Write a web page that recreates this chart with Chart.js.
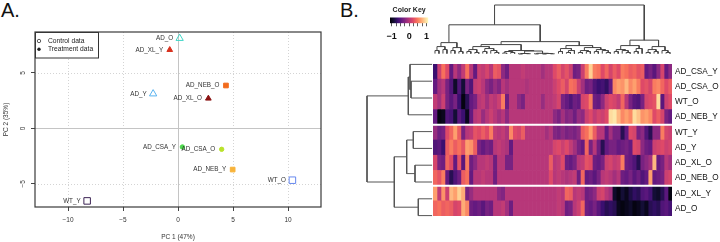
<!DOCTYPE html>
<html>
<head>
<meta charset="utf-8">
<script src="https://cdn.jsdelivr.net/npm/chart.js@4.4.1/dist/chart.umd.min.js"></script>
<style>
  body { margin: 0; background: #fff; width: 720px; height: 242px; overflow: hidden; position: relative; font-family: "Liberation Sans", Arial, sans-serif; }
  canvas { position: absolute; }
  .panel { position: absolute; font-size: 20px; line-height: 20px; color: #111; }
</style>
</head>
<body>
<div class="panel" style="left:1px;top:0px">A.</div>
<div class="panel" style="left:340px;top:0px">B.</div>
<canvas id="pca" width="360" height="242" style="left:0;top:0"></canvas>
<canvas id="key" width="56" height="44" style="left:380px;top:0"></canvas>
<canvas id="colDendro" width="239" height="56" style="left:433px;top:0"></canvas>
<canvas id="rowDendro" width="71" height="168" style="left:362px;top:56px"></canvas>
<canvas id="heat" width="287" height="168" style="left:433px;top:56px"></canvas>
<script>
// --- PANEL A: PCA scores ---
const pcaNames = ['AD_O', 'AD_XL_Y', 'AD_NEB_O', 'AD_Y', 'AD_XL_O', 'AD_CSA_Y', 'AD_CSA_O', 'AD_NEB_Y', 'WT_O', 'WT_Y'];
const pc1 = [0.15, -0.75, 4.36, -2.26, 2.76, 0.4, 3.97, 4.97, 10.4, -8.26];
const pc2 = [8.13, 7.09, 3.87, 3.12, 2.70, -1.68, -1.89, -3.72, -4.68, -6.55];
const treated = [false, true, true, false, true, true, true, true, false, false];
const pc1Ticks = [-10, -5, 0, 5, 10];
const pc2Ticks = [-5, 0, 5];
const legendLabels = ['Control data', 'Treatment data'];

// point styles
const pcaColors = ['#3fd6c6', '#d8321e', '#f26b1d', '#58b2ef', '#8a1212', '#4ed84e', '#b9e22b', '#f8b33a', '#6688ee', '#3c2454'];
const pcaShapes = ['triangle', 'triangle', 'rect', 'triangle', 'triangle', 'circle', 'circle', 'rect', 'rect', 'rect'];
const pcaRadius = [4.2, 3.3, 3.3, 4.2, 3.3, 2.2, 2.2, 3.3, 4.6, 4.6];

// --- PANEL B: heatmap rows (top to bottom), 60 columns each ---
const heatRowLabels = ['AD_CSA_Y', 'AD_CSA_O', 'WT_O', 'AD_NEB_Y', 'WT_Y', 'AD_Y', 'AD_XL_O', 'AD_NEB_O', 'AD_XL_Y', 'AD_O'];
const heatAD_CSA_Y = [-0.6, 0.1, 0.4, 0.2, -0.4, 0, -0.2, 0.05, 0.4, 0, -0.4, 0.1, 0.05, 0.15, 0, 0.3, 0.25, -0.2, -0.35,
  0, 0, 0, 0.05, 0, 0, 0, 0, -0.1, 0, 0,
  0.2, 0.3, 0.15, 0.25, 0.1, -0.35, -0.3, 0.1, 0.45, 0.8, 0.45, 0.4, 0.2, 0.35, 0.15, 0.3, 0.2, 0.45, 0.4, 0.3, 0.35, 0.25, 0.3, -0.4, -0.3, -0.45, -0.2, 0.15, -0.4, -0.2];
const heatAD_CSA_O = [-0.4, -0.1, 0, -0.3, -0.5, -0.85, -0.5, -0.8, -0.3, -0.5, 0.05, 0.1, 0, -0.2, -0.3, -0.15, -0.25, 0, -0.1,
  0, 0, 0, 0, -0.05, 0, 0, 0, 0, 0, 0,
  0.1, 0.2, 0.3, 0.15, 0.4, 0.35, 0.1, -0.1, -0.35, -0.3, -0.5, -0.6, -0.55, -0.65, -0.4, 0.5, 0.6, 0.55, 0.7, 0.5, 0.6, 0.45, 0.2, 0.25, 0.15, 0.45, 0.5, 0.35, 0.2, 0.3];
const heatWT_O = [0.05, -0.1, 0.1, -0.3, -0.45, -0.3, -0.6, -0.95, -0.7, -0.4, -0.3, 0, 0.05, -0.1, 0.05, 0, 0.1, 0.45, -0.35,
  0, 0, -0.2, -0.3, 0, 0, 0, 0, -0.15, 0, 0,
  0.05, 0.15, -0.3, -0.4, -0.5, -0.35, -0.4, 0.15, 0.2, 0.45, -0.35, -0.4, -0.2, 0.1, 0.2, 0.15, 0.05, 0.35, 0, -0.3, -0.45, -0.5, -0.3, 0.15, 0.2, 0.25, 0.85, -0.45, 0.1, 0.2];
const heatAD_NEB_Y = [-0.4, -0.95, -0.9, -0.5, -0.55, -0.8, -0.45, -0.6, -0.9, -0.4, 0, 0.05, -0.15, 0, 0.1, 0, -0.1, 0, -0.2,
  0, 0, 0, 0, 0, 0, 0, 0, 0, 0, 0,
  -0.2, -0.3, -0.1, -0.25, -0.2, -0.35, -0.15, -0.2, 0.1, 0.2, 0.05, 0.15, 0.1, 0.2, 0.85, 0.9, 0.7, 0.5, 0.6, 0.5, 0.85, 0.75, 0.55, 0.6, 0.5, 0.2, 0.3, 0.15, -0.3, -0.4];
const heatWT_Y = [-0.15, -0.35, -0.3, 0.2, 0.35, 0.6, 0.3, -0.3, 0, 0.05, 0.25, 0.2, 0.3, 0.2, 0.45, 0.05, 0, 0.05, -0.05,
  0.5, 0.2, 0.15, 0.3, 0, 0, 0, 0, 0, -0.1, 0,
  -0.25, -0.3, -0.2, -0.3, -0.25, -0.3, -0.2, 0.3, 0.4, 0.6, 0.3, 0, 0, -0.4, -0.1, -0.3, -0.3, -0.7, -0.4, 0.2, 0.15, -0.3, -0.2, -0.5, -0.7, -0.2, -0.2, 0.45, 0.15, 0.1];
const heatAD_Y = [-0.5, -0.45, -0.6, 0.3, 0.45, 0.3, 0.4, 0.25, 0.6, 0.55, 0.3, -0.3, -0.4, -0.3, -0.35, 0, 0.05, 0, -0.05,
  -0.4, 0, 0, 0, 0, 0, 0, 0, 0, 0, 0,
  0.15, 0.2, 0.1, 0.2, 0.05, -0.1, -0.3, -0.4, 0.35, -0.3, 0, -0.35, -0.7, -0.4, -0.3, -0.3, -0.4, -0.35, -0.3, -0.4, 0.2, 0.15, -0.2, -0.35, -0.4, 0.1, 0.15, 0.2, 0.1, 0.15];
const heatAD_XL_O = [0.15, -0.3, -0.35, 0.35, 0.2, -0.4, 0.25, -0.45, 0.45, -0.35, -0.2, 0, 0, 0.05, 0, -0.35, 0, 0, -0.3,
  -0.3, 0, 0, 0, 0, 0, 0, 0, 0, 0, 0.3,
  0, 0.05, 0.2, -0.35, -0.4, -0.3, 0, 0.05, 0.25, 0.2, -0.35, -0.4, -0.3, 0.1, 0.15, 0.05, 0.1, 0.45, -0.35, -0.4, -0.5, -0.7, -0.3, -0.2, -0.1, 0.7, -0.4, -0.3, 0, -0.1];
const heatAD_NEB_O = [0.35, 0.25, 0.45, -0.4, -0.7, -0.5, -0.35, 0.3, 0.4, -0.4, 0, 0, 0.05, 0, 0, -0.35, 0, 0, 0,
  0, 0, 0, 0, 0, 0, 0, 0, 0, 0, 0.2,
  0, 0.05, 0, -0.05, 0, 0.05, -0.35, 0.35, -0.4, -0.35, -0.45, -0.3, 0, 0.05, 0, -0.1, 0, -0.35, -0.4, -0.3, -0.45, -0.35, -0.5, -0.4, 0.6, -0.4, -0.35, -0.3, 0.1, 0.15];
const heatAD_XL_Y = [0.6, 0.05, 0.55, 0.1, 0.7, 0.6, 0.8, 0.65, -0.3, -0.15, 0, 0, 0, 0, 0, 0, -0.2, -0.25, 0,
  0, 0, 0, 0, 0, 0, 0, 0, 0, 0, 0,
  0, 0.05, 0, 0.35, 0.3, 0, 0.05, 0, -0.35, -0.3, -0.2, 0.1, 0.15, 0, -0.1, -0.85, -0.95, -0.8, -0.9, -0.75, -0.65, -0.7, -0.5, -0.45, -0.55, -0.8, -0.85, -0.7, -0.45, -0.95];
const heatAD_O = [0.35, 0.4, 0.3, 0.35, 0.3, 0.15, 0.2, 0.65, 0.5, -0.35, -0.4, -0.35, -0.45, -0.3, -0.35, 0, 0, 0.05, -0.1,
  -0.35, 0, 0, 0, 0, 0, 0, 0, 0, 0, 0,
  0, 0.05, 0, -0.35, -0.3, 0, 0.1, 0.35, -0.35, -0.4, -0.3, -0.45, -0.6, -0.7, -0.65, -0.7, -0.9, -0.95, -0.9, -0.85, -0.95, -0.9, -0.8, -0.9, -0.7, -0.65, -0.7, -0.5, -0.45, -0.55];
const heatRows = [heatAD_CSA_Y, heatAD_CSA_O, heatWT_O, heatAD_NEB_Y, heatWT_Y, heatAD_Y, heatAD_XL_O, heatAD_NEB_O, heatAD_XL_Y, heatAD_O];
const heatRowBreaks = [4, 8];

// dendrograms: [height, left, right], leaves are row / column indices
const rowTree = [66, [24.7, [23, 0, [22, 1, 2]], 3], [38.7, [26.3, [19.7, 4, 5], [18, 6, 7]], [14.7, 8, 9]]];
const colTree = [50,
  [30,
    [12, [8, [4, 0, 1], [5, 2, 3]], [7, [4, 4, 5], [3, 6, 7]]],
    [13,
      [10,
        [8, [5, [3, 8, 9], [2, 10, 11]], [6, [3, 12, 13], [4, 14, [2, 15, 16]]]],
        [4, [3, [1.5, 17, 18], [2, 19, 20]], [3.5, [1, [0.5, 21, 22], [0.8, 23, 24]], [1.2, [0.6, 25, 26], [1, [0.5, 27, 28], [0.7, 29, 30]]]]]],
      [9, [6, [3, 31, 32], [4, [2, 33, 34], 35]], [7, [4, [2, 36, 37], [3, 38, 39]], [5, [3, 40, 41], [4, 42, [2, 43, 44]]]]]]],
  [14.5,
    [9, [5, [3, 45, 46], [4, 47, [2, 48, 49]]], [6, [3, 50, 51], 52]],
    [8, [5, [2, 53, 54], [3, 55, 56]], [4, 57, [2, 58, 59]]]]];

// colour key
const keyRange = [-1.1, 1.1];
const keyTicks = [-1, -0.75, -0.5, -0.25, 0, 0.25, 0.5, 0.75, 1];
const keyLabels = [-1, 0, 1];

// magma palette
const magmaStops = ['#000004', '#140e36', '#3b0f70', '#641a80', '#8c2981', '#b73779', '#de4968', '#f7705c', '#fe9f6d', '#fecf92', '#fcfdbf'];

Chart.defaults.font.family = '"Liberation Sans", Arial, sans-serif';
Chart.defaults.animation = false;
Chart.defaults.responsive = false;
Chart.defaults.devicePixelRatio = 1;
Chart.defaults.plugins.legend.display = false;
Chart.defaults.plugins.tooltip.enabled = false;

function hexRgb(h) {
  return [1, 3, 5].map(i => parseInt(h.slice(i, i + 2), 16));
}

function magma(v) {
  const t = Math.max(0, Math.min(1, (v + 1) / 2));
  const p = t * (magmaStops.length - 1);
  const i = Math.min(Math.floor(p), magmaStops.length - 2);
  const f = p - i;
  const a = hexRgb(magmaStops[i]), b = hexRgb(magmaStops[i + 1]);
  const c = a.map((ch, k) => Math.round(ch + (b[k] - ch) * f));
  return `rgb(${c[0]},${c[1]},${c[2]})`;
}

const minus = v => String(v).replace('-', '\u2212');

// --- Panel A ---
const pcaDecor = {
  id: 'pcaDecor',
  beforeDatasetsDraw(chart) {
    const { ctx, chartArea: a, scales: { x, y } } = chart;
    ctx.save();
    ctx.lineWidth = 1;
    ctx.strokeStyle = '#d4d4d4';
    ctx.setLineDash([1, 2]);
    pc1Ticks.filter(v => v !== 0).forEach(v => {
      const px = Math.round(x.getPixelForValue(v)) + 0.5;
      ctx.beginPath(); ctx.moveTo(px, a.top); ctx.lineTo(px, a.bottom); ctx.stroke();
    });
    pc2Ticks.filter(v => v !== 0).forEach(v => {
      const py = Math.round(y.getPixelForValue(v)) + 0.5;
      ctx.beginPath(); ctx.moveTo(a.left, py); ctx.lineTo(a.right, py); ctx.stroke();
    });
    ctx.setLineDash([]);
    ctx.strokeStyle = '#c4c4c4';
    const x0 = Math.round(x.getPixelForValue(0)) + 0.5;
    const y0 = Math.round(y.getPixelForValue(0)) + 0.5;
    ctx.beginPath(); ctx.moveTo(x0, a.top); ctx.lineTo(x0, a.bottom); ctx.stroke();
    ctx.beginPath(); ctx.moveTo(a.left, y0); ctx.lineTo(a.right, y0); ctx.stroke();
    ctx.restore();
  },
  afterDatasetsDraw(chart) {
    const { ctx, chartArea: a, scales: { x, y } } = chart;
    ctx.save();
    // point labels, left of each point
    ctx.font = '6.3px "Liberation Sans"';
    ctx.fillStyle = '#333';
    ctx.textAlign = 'right';
    ctx.textBaseline = 'middle';
    pcaNames.forEach((name, i) => {
      ctx.fillText(name, x.getPixelForValue(pc1[i]) - 6.5, y.getPixelForValue(pc2[i]));
    });
    // legend box
    ctx.fillStyle = '#fff';
    ctx.fillRect(a.left, a.top, 63, 25.5);
    ctx.strokeStyle = '#333';
    ctx.lineWidth = 1;
    ctx.strokeRect(a.left + 0.5, a.top + 0.5, 63, 25.5);
    ctx.font = '6.7px "Liberation Sans"';
    ctx.textAlign = 'left';
    ctx.fillStyle = '#222';
    legendLabels.forEach((lab, i) => {
      const ly = a.top + 9 + i * 8.3;
      ctx.beginPath();
      ctx.arc(a.left + 4, ly, 1.7, 0, Math.PI * 2);
      if (i === 0) { ctx.lineWidth = 0.8; ctx.stroke(); } else { ctx.fill(); }
      ctx.fillText(lab, a.left + 13, ly);
    });
    // frame
    ctx.strokeStyle = '#3a3a3a';
    ctx.lineWidth = 1.2;
    ctx.strokeRect(a.left, a.top, a.right - a.left, a.bottom - a.top);
    // rotated y tick labels (R style)
    ctx.font = '6.5px "Liberation Sans"';
    ctx.fillStyle = '#333';
    ctx.textAlign = 'center';
    pc2Ticks.forEach(v => {
      ctx.save();
      ctx.translate(a.left - 11.5, y.getPixelForValue(v));
      ctx.rotate(-Math.PI / 2);
      ctx.fillText(minus(v), 0, 0);
      ctx.restore();
    });
    ctx.restore();
  }
};

new Chart(document.getElementById('pca'), {
  type: 'scatter',
  data: {
    datasets: [{
      data: pc1.map((v, i) => ({ x: v, y: pc2[i] })),
      pointStyle: pcaShapes,
      pointRadius: pcaRadius,
      pointBorderColor: pcaColors,
      pointBackgroundColor: pcaColors.map((c, i) => treated[i] ? c : 'rgba(0,0,0,0)'),
      pointBorderWidth: 1
    }]
  },
  options: {
    layout: { padding: { top: 32, right: 39, left: 0, bottom: 0 } },
    scales: {
      x: {
        min: -13, max: 13,
        afterBuildTicks: s => { s.ticks = pc1Ticks.map(v => ({ value: v })); },
        afterFit: s => { s.height = 35; },
        grid: { drawOnChartArea: false, tickLength: 4, color: '#444' },
        border: { display: false },
        ticks: { color: '#333', font: { size: 6.5 }, padding: 5, maxRotation: 0, callback: v => minus(v) },
        title: { display: true, text: 'PC 1 (47%)', color: '#333', font: { size: 6.5 }, padding: { top: 0, bottom: 1 } }
      },
      y: {
        min: -7.1, max: 8.7,
        afterBuildTicks: s => { s.ticks = pc2Ticks.map(v => ({ value: v })); },
        afterFit: s => { s.width = 35; },
        grid: { drawOnChartArea: false, tickLength: 4, color: '#444' },
        border: { display: false },
        ticks: { color: 'rgba(0,0,0,0)', font: { size: 6.5 } },
        title: { display: true, text: 'PC 2 (35%)', color: '#333', font: { size: 6.5 }, padding: { top: 2, bottom: 0 } }
      }
    }
  },
  plugins: [pcaDecor]
});

// --- Panel B: heatmap ---
const nCols = heatAD_O.length;
const heatDatasets = [];
for (let j = 0; j < nCols; j++) {
  heatDatasets.push({
    data: heatRows.map(() => [j, j + 1]),
    backgroundColor: heatRows.map(r => magma(r[j])),
    borderWidth: 0,
    barPercentage: 1,
    categoryPercentage: 1,
    grouped: false
  });
}

const rowSeparators = {
  id: 'rowSeparators',
  afterDatasetsDraw(chart) {
    const { ctx, chartArea: a, scales: { y } } = chart;
    ctx.save();
    ctx.strokeStyle = '#fff';
    ctx.lineWidth = 2;
    heatRowBreaks.forEach(b => {
      const py = (y.getPixelForValue(b - 1) + y.getPixelForValue(b)) / 2;
      ctx.beginPath(); ctx.moveTo(a.left, py); ctx.lineTo(a.right, py); ctx.stroke();
    });
    ctx.restore();
  }
};

new Chart(document.getElementById('heat'), {
  type: 'bar',
  data: { labels: heatRowLabels, datasets: heatDatasets },
  options: {
    indexAxis: 'y',
    layout: { padding: 0 },
    scales: {
      x: { type: 'linear', min: 0, max: nCols, display: false },
      y: {
        position: 'right',
        afterFit: s => { s.width = 48; },
        grid: { display: false, drawTicks: false },
        border: { display: false },
        ticks: { color: '#111', font: { size: 8.2 }, padding: 3 }
      }
    }
  },
  plugins: [rowSeparators]
});

// --- dendrograms ---
const leafGap = 0.9;
function dendroLinks(tree) {
  const links = [];
  function walk(node) {
    if (typeof node === 'number') return { pos: node + 0.5, h: leafGap };
    const [h, a, b] = node;
    const l = walk(a), r = walk(b);
    links.push([[l.pos, l.h], [l.pos, h], [r.pos, h], [r.pos, r.h]]);
    return { pos: (l.pos + r.pos) / 2, h };
  }
  walk(tree);
  return links;
}

function dendroDataset(pts, color) {
  return { data: pts, showLine: true, pointRadius: 0, borderColor: color, borderWidth: 1, clip: false, tension: 0 };
}

new Chart(document.getElementById('rowDendro'), {
  type: 'scatter',
  data: {
    datasets: dendroLinks(rowTree).map(l => dendroDataset(l.map(([p, h]) => ({ x: h, y: p })), '#555'))
  },
  options: {
    layout: { padding: 0 },
    scales: {
      x: { type: 'linear', min: 0, max: 71, reverse: true, display: false },
      y: { type: 'linear', min: 0, max: heatRows.length, reverse: true, display: false }
    }
  }
});

new Chart(document.getElementById('colDendro'), {
  type: 'scatter',
  data: {
    datasets: dendroLinks(colTree).map(l => dendroDataset(l.map(([p, h]) => ({ x: p, y: h })), '#444'))
  },
  options: {
    layout: { padding: { top: 5, bottom: 1.5, left: 0, right: 0 } },
    scales: {
      x: { type: 'linear', min: 0, max: nCols, display: false },
      y: { type: 'linear', min: 0, max: 50, display: false }
    }
  }
});

// --- colour key ---
new Chart(document.getElementById('key'), {
  type: 'bar',
  data: {
    labels: [''],
    datasets: [{
      data: [keyRange],
      barPercentage: 1,
      categoryPercentage: 1,
      borderWidth: 0,
      backgroundColor: ctx => {
        const { chart } = ctx;
        const a = chart.chartArea;
        if (!a) return magma(0);
        const xs = chart.scales.x;
        const g = chart.ctx.createLinearGradient(xs.getPixelForValue(keyRange[0]), 0, xs.getPixelForValue(keyRange[1]), 0);
        magmaStops.forEach((c, i) => g.addColorStop(i / (magmaStops.length - 1), c));
        return g;
      }
    }]
  },
  options: {
    indexAxis: 'y',
    layout: { padding: { left: 10, right: 7.7, top: 0, bottom: 0 } },
    plugins: {
      title: { display: true, text: 'Color Key', color: '#222', font: { size: 7, weight: 'bold' }, padding: { top: 6, bottom: 3 } }
    },
    scales: {
      x: {
        type: 'linear', min: keyRange[0], max: keyRange[1],
        afterBuildTicks: s => { s.ticks = keyTicks.map(v => ({ value: v })); },
        afterFit: s => { s.height = 20.7; },
        grid: { drawOnChartArea: false, tickLength: 3, color: '#333', lineWidth: 0.8 },
        border: { display: false },
        ticks: {
          color: '#111', font: { size: 9, weight: 'bold' }, padding: 5, maxRotation: 0, autoSkip: false,
          callback: v => keyLabels.includes(v) ? minus(v) : ''
        }
      },
      y: { display: false }
    }
  }
});
</script>
</body>
</html>
